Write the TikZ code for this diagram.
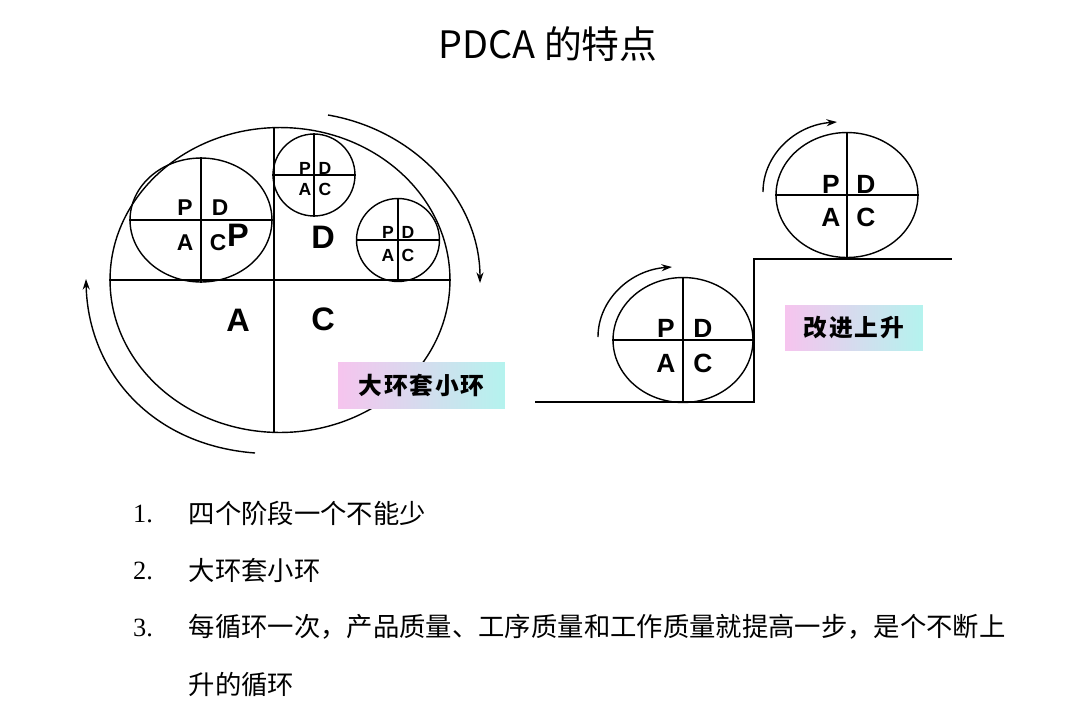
\documentclass[tikz,border=0pt]{standalone}
\usepackage{fontspec}
\setmainfont{Liberation Serif}
\newfontfamily\cjk{Noto Sans CJK SC}
\newfontfamily\cjklbl[LetterSpace=8]{Noto Sans CJK SC}
\newfontfamily\arialb{Liberation Sans}
\usetikzlibrary{shapes.geometric,arrows.meta}
\definecolor{lblpink}{HTML}{F6C4EE}
\definecolor{lblblue}{HTML}{D4D9F4}
\definecolor{lblcyan}{HTML}{B4F3EE}
\tikzset{
  ring/.style = {ellipse, draw, inner sep=0pt, line width=0.8pt},
  ltr_t/.style = {inner sep=0pt, font=\arialb\bfseries\fontsize{10}{10}\selectfont},
  ltr_s/.style = {inner sep=0pt, font=\arialb\bfseries\fontsize{13}{13}\selectfont},
  ltr_m/.style = {inner sep=0pt, font=\arialb\bfseries\fontsize{15}{15}\selectfont},
  ltr_b/.style = {inner sep=0pt, font=\arialb\bfseries\fontsize{18.5}{18}\selectfont},
  turn/.style = {line width=0.8pt, -{Stealth[length=6pt,width=4pt]}},
  tag/.style = {inner sep=0pt, left color=lblpink, middle color=lblblue, right color=lblcyan,
    font=\cjklbl\bfseries\fontsize{13.5}{14}\selectfont},
  num/.style = {inner sep=0pt, font=\fontsize{15}{15}\selectfont},
  item/.style = {anchor=west, inner sep=0pt, font=\cjk\fontsize{15}{15}\selectfont}
}

\begin{document}
\begin{tikzpicture}[x=0.02cm, y=-0.02cm, line width=0.8pt]
\useasboundingbox (0,0) rectangle (1080,704);

% title
\node (title) at (548,44) {\cjk\fontsize{21.5}{22}\selectfont PDCA 的特点};

% big ring with small rings
\node [ring, minimum width=6.8cm, minimum height=6.1cm] (big) at (280,280) {};
\draw ([xshift=-0.12cm]big.north) -- ([xshift=-0.12cm]big.south);
\draw (big.west) -- (big.east);
\node [ring, minimum width=2.84cm, minimum height=2.48cm] (ringL) at (201,220) {};
\draw (ringL.north) -- (ringL.south) (ringL.west) -- (ringL.east);
\node [ring, minimum width=1.64cm, minimum height=1.64cm] (ringT) at (314,175) {};
\draw (ringT.north) -- (ringT.south) (ringT.west) -- (ringT.east);
\node [ring, minimum width=1.66cm, minimum height=1.66cm] (ringR) at (398,240) {};
\draw (ringR.north) -- (ringR.south) (ringR.west) -- (ringR.east);

\node [ltr_s] (lP) at (185,208) {P};
\node [ltr_s] (lD) at (220,208) {D};
\node [ltr_s] (lA) at (185,243) {A};
\node [ltr_s] (lC) at (218,243) {C};
\node [ltr_t] (tP) at (305,168) {P};
\node [ltr_t] (tD) at (325,168) {D};
\node [ltr_t] (tA) at (305,189) {A};
\node [ltr_t] (tC) at (325,189) {C};
\node [ltr_t] (rP) at (388,232) {P};
\node [ltr_t] (rD) at (408,232) {D};
\node [ltr_t] (rA) at (388,255) {A};
\node [ltr_t] (rC) at (408,255) {C};
\node [ltr_b] (bP) at (238,235) {P};
\node [ltr_b] (bD) at (323,237) {D};
\node [ltr_b] (bA) at (238,320) {A};
\node [ltr_b] (bC) at (323,319) {C};

\coordinate (cwS) at (328,115);
\coordinate (cwE) at (480,283);
\coordinate (ccS) at (255,453);
\coordinate (ccE) at (86,279);
\draw [turn] (cwS) .. controls (415,130) and (480,200) .. (cwE);
\draw [turn] (ccS) .. controls (150,445) and (88,370) .. (ccE);

\node [tag, minimum width=3.34cm, minimum height=0.92cm] (tagL) at (421.5,385) {大环套小环};

% steps
\coordinate (st0) at (535,402);
\coordinate (st1) at (754,402);
\coordinate (st2) at (754,259);
\coordinate (st3) at (952,259);
\draw (st0) -- (st1) -- (st2) -- (st3);

\node [ring, minimum width=2.8cm, minimum height=2.5cm] (low) at (683,340) {};
\draw (low.north) -- (low.south) (low.west) -- (low.east);
\node [ring, minimum width=2.84cm, minimum height=2.5cm] (up) at (847,195) {};
\draw (up.north) -- (up.south) (up.west) -- (up.east);

\node [ltr_m] (loP) at (666,328) {P};
\node [ltr_m] (loD) at (703,328) {D};
\node [ltr_m] (loA) at (666,363) {A};
\node [ltr_m] (loC) at (703,363) {C};
\node [ltr_m] (upP) at (831,184) {P};
\node [ltr_m] (upD) at (866,184) {D};
\node [ltr_m] (upA) at (831,217) {A};
\node [ltr_m] (upC) at (866,217) {C};

\coordinate (loS) at (598,337);
\coordinate (loE) at (672,267);
\coordinate (upS) at (763,192);
\coordinate (upE) at (837,122);
\draw [turn] (loS) .. controls (598,300) and (630,270) .. (loE);
\draw [turn] (upS) .. controls (763,155) and (795,125) .. (upE);

\node [tag, minimum width=2.76cm, minimum height=0.9cm] (tagR) at (854,327.5) {改进上升};

% list
\node [num] (n1) at (143,514) {1.};
\node [num] (n2) at (143,571) {2.};
\node [num] (n3) at (143,628) {3.};
\node [item] (i1) at (188,513) {四个阶段一个不能少};
\node [item] (i2) at (188,570) {大环套小环};
\node [item] (i3) at (188,627) {每循环一次，产品质量、工序质量和工作质量就提高一步，是个不断上};
\node [item] (i4) at (188,685) {升的循环};
\end{tikzpicture}
\end{document}
